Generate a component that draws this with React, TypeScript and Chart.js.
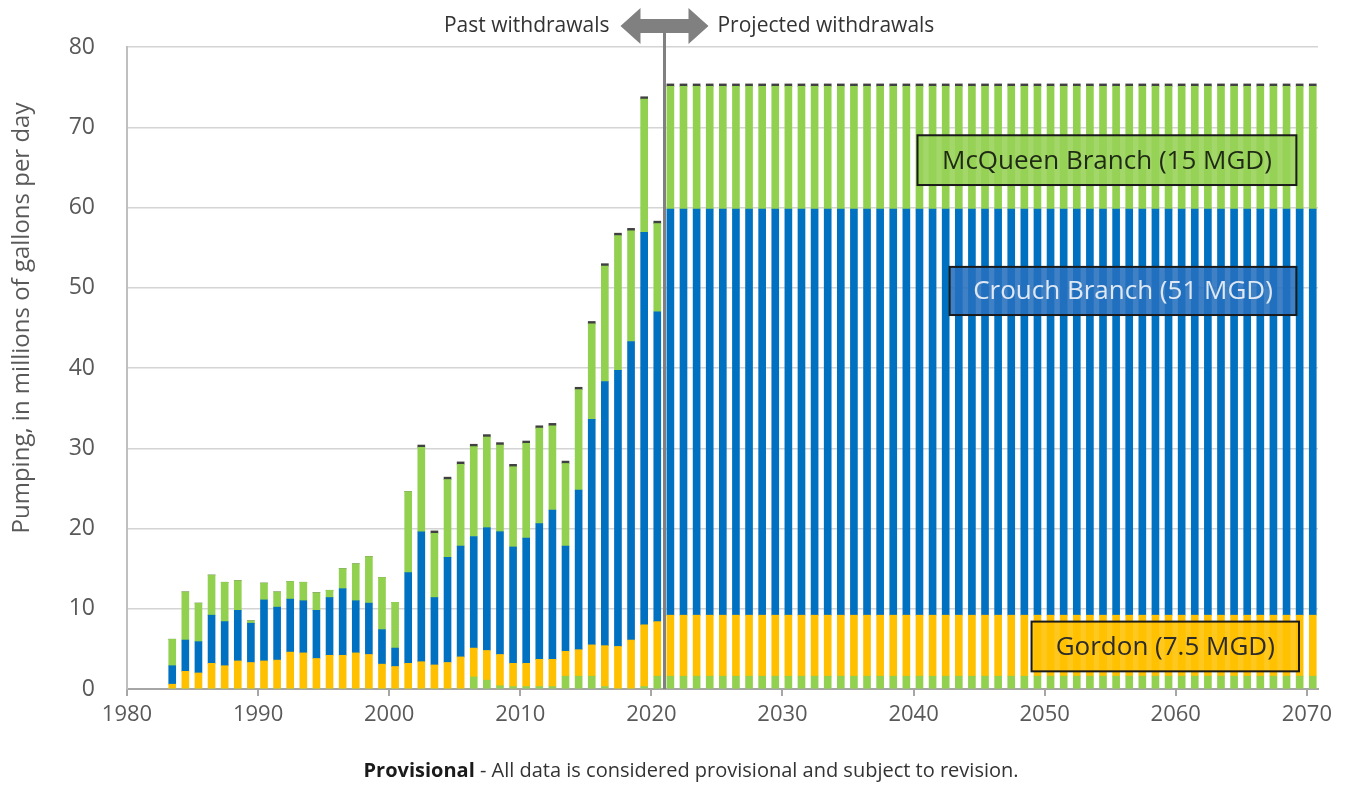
import React, { useEffect, useRef } from "react";
import { Chart, registerables } from "chart.js";

Chart.register(...registerables);

// ---- Data (millions of gallons per day) ----
const years = [
  1983, 1984, 1985, 1986, 1987, 1988, 1989, 1990, 1991, 1992,
  1993, 1994, 1995, 1996, 1997, 1998, 1999, 2000, 2001, 2002,
  2003, 2004, 2005, 2006, 2007, 2008, 2009, 2010, 2011, 2012,
  2013, 2014, 2015, 2016, 2017, 2018, 2019, 2020, 2021, 2022,
  2023, 2024, 2025, 2026, 2027, 2028, 2029, 2030, 2031, 2032,
  2033, 2034, 2035, 2036, 2037, 2038, 2039, 2040, 2041, 2042,
  2043, 2044, 2045, 2046, 2047, 2048, 2049, 2050, 2051, 2052,
  2053, 2054, 2055, 2056, 2057, 2058, 2059, 2060, 2061, 2062,
  2063, 2064, 2065, 2066, 2067, 2068, 2069, 2070,
];

const otherGreen = [
  0, 0, 0, 0, 0, 0, 0, 0, 0, 0,
  0, 0, 0, 0, 0, 0, 0, 0, 0, 0,
  0, 0, 0, 1.5, 1.1, 0.4, 0.3, 0.3, 0.3, 0.3,
  1.6, 1.6, 1.6, 0.3, 0, 0, 0.3, 1.6, 1.6, 1.6,
  1.6, 1.6, 1.6, 1.6, 1.6, 1.6, 1.6, 1.6, 1.6, 1.6,
  1.6, 1.6, 1.6, 1.6, 1.6, 1.6, 1.6, 1.6, 1.6, 1.6,
  1.6, 1.6, 1.6, 1.6, 1.6, 1.6, 1.6, 1.6, 1.6, 1.6,
  1.6, 1.6, 1.6, 1.6, 1.6, 1.6, 1.6, 1.6, 1.6, 1.6,
  1.6, 1.6, 1.6, 1.6, 1.6, 1.6, 1.6, 1.6,
];

const gordon = [
  0.6, 2.2, 2.0, 3.2, 2.9, 3.5, 3.3, 3.5, 3.6, 4.6,
  4.5, 3.8, 4.2, 4.2, 4.5, 4.3, 3.1, 2.8, 3.2, 3.4,
  3.0, 3.3, 4.0, 3.6, 3.7, 3.9, 2.9, 2.9, 3.4, 3.4,
  3.1, 3.3, 3.9, 5.1, 5.3, 6.1, 7.7, 6.8, 7.6, 7.6,
  7.6, 7.6, 7.6, 7.6, 7.6, 7.6, 7.6, 7.6, 7.6, 7.6,
  7.6, 7.6, 7.6, 7.6, 7.6, 7.6, 7.6, 7.6, 7.6, 7.6,
  7.6, 7.6, 7.6, 7.6, 7.6, 7.6, 7.6, 7.6, 7.6, 7.6,
  7.6, 7.6, 7.6, 7.6, 7.6, 7.6, 7.6, 7.6, 7.6, 7.6,
  7.6, 7.6, 7.6, 7.6, 7.6, 7.6, 7.6, 7.6,
];

const crouch = [
  2.3, 3.9, 3.9, 6.0, 5.5, 6.3, 4.9, 7.6, 6.6, 6.6,
  6.5, 6.0, 7.2, 8.3, 6.5, 6.4, 4.3, 2.3, 11.3, 16.2,
  8.4, 13.1, 13.8, 13.9, 15.3, 15.3, 14.5, 15.6, 16.9, 18.6,
  13.1, 19.9, 28.1, 32.9, 34.4, 37.2, 48.9, 38.6, 50.6, 50.6,
  50.6, 50.6, 50.6, 50.6, 50.6, 50.6, 50.6, 50.6, 50.6, 50.6,
  50.6, 50.6, 50.6, 50.6, 50.6, 50.6, 50.6, 50.6, 50.6, 50.6,
  50.6, 50.6, 50.6, 50.6, 50.6, 50.6, 50.6, 50.6, 50.6, 50.6,
  50.6, 50.6, 50.6, 50.6, 50.6, 50.6, 50.6, 50.6, 50.6, 50.6,
  50.6, 50.6, 50.6, 50.6, 50.6, 50.6, 50.6, 50.6,
];

const mcqueen = [
  3.3, 6.0, 4.8, 5.0, 4.9, 3.7, 0.3, 2.1, 1.9, 2.2,
  2.3, 2.2, 0.9, 2.5, 4.6, 5.8, 6.5, 5.7, 10.1, 10.5,
  8.0, 9.7, 10.2, 11.2, 11.3, 10.8, 10.0, 11.8, 11.9, 10.5,
  10.3, 12.5, 11.9, 14.4, 16.8, 13.8, 16.6, 11.0, 15.3, 15.3,
  15.3, 15.3, 15.3, 15.3, 15.3, 15.3, 15.3, 15.3, 15.3, 15.3,
  15.3, 15.3, 15.3, 15.3, 15.3, 15.3, 15.3, 15.3, 15.3, 15.3,
  15.3, 15.3, 15.3, 15.3, 15.3, 15.3, 15.3, 15.3, 15.3, 15.3,
  15.3, 15.3, 15.3, 15.3, 15.3, 15.3, 15.3, 15.3, 15.3, 15.3,
  15.3, 15.3, 15.3, 15.3, 15.3, 15.3, 15.3, 15.3,
];

const cap = [
  0, 0, 0, 0, 0, 0, 0, 0, 0, 0,
  0, 0, 0, 0, 0, 0, 0, 0, 0, 0.3,
  0.3, 0.3, 0.3, 0.3, 0.3, 0.3, 0.3, 0.3, 0.3, 0.3,
  0.3, 0.3, 0.3, 0.3, 0.3, 0.3, 0.3, 0.3, 0.3, 0.3,
  0.3, 0.3, 0.3, 0.3, 0.3, 0.3, 0.3, 0.3, 0.3, 0.3,
  0.3, 0.3, 0.3, 0.3, 0.3, 0.3, 0.3, 0.3, 0.3, 0.3,
  0.3, 0.3, 0.3, 0.3, 0.3, 0.3, 0.3, 0.3, 0.3, 0.3,
  0.3, 0.3, 0.3, 0.3, 0.3, 0.3, 0.3, 0.3, 0.3, 0.3,
  0.3, 0.3, 0.3, 0.3, 0.3, 0.3, 0.3, 0.3,
];

const xTickValues = [1980, 1990, 2000, 2010, 2020, 2030, 2040, 2050, 2060, 2070];

const boxLabels = [
  "McQueen Branch (15 MGD)",
  "Crouch Branch (51 MGD)",
  "Gordon (7.5 MGD)",
];

const yTitle = "Pumping, in millions of gallons per day";
const pastLabel = "Past withdrawals";
const projectedLabel = "Projected withdrawals";
const captionBold = "Provisional";
const captionRest = " - All data is considered provisional and subject to revision.";

// ---- Layout / style constants ----
const FONT = '"Open Sans", "DejaVu Sans", sans-serif';
const BAR_OFFSET = 0.45; // bars sit just past the year tick
const DIVIDER_X = 2021; // between last measured and first projected year
const GREEN = "#92D050";
const YELLOW = "#FFC000";
const BLUE = "#0070C0";
const CAP = "#404040";
const GREY_TEXT = "#595959";

const boxes = [
  { x0: 2040.3, x1: 2069.2, y0: 62.8, y1: 69.0, fill: "rgba(150,210,85,0.88)", text: "#1f2a15" },
  { x0: 2042.75, x1: 2069.2, y0: 46.6, y1: 52.6, fill: "rgba(38,112,190,0.88)", text: "#dfe8f3" },
  { x0: 2049.0, x1: 2069.4, y0: 2.2, y1: 8.4, fill: "rgba(255,192,0,0.88)", text: "#2b2b2b" },
];

const overlayPlugin = {
  id: "overlay",
  afterDatasetsDraw(chart: any) {
    const { ctx, chartArea, scales } = chart;
    const xs = scales.x;
    const ys = scales.y;
    boxes.forEach((b, i) => {
      const left = xs.getPixelForValue(b.x0);
      const right = xs.getPixelForValue(b.x1);
      const top = ys.getPixelForValue(b.y1);
      const bottom = ys.getPixelForValue(b.y0);
      ctx.save();
      ctx.fillStyle = b.fill;
      ctx.fillRect(left, top, right - left, bottom - top);
      ctx.lineWidth = 2;
      ctx.strokeStyle = "#1a1a1a";
      ctx.strokeRect(left, top, right - left, bottom - top);
      ctx.font = `26px ${FONT}`;
      ctx.fillStyle = b.text;
      ctx.textAlign = "center";
      ctx.textBaseline = "middle";
      ctx.fillText(boxLabels[i], (left + right) / 2, (top + bottom) / 2 + 1);
      ctx.restore();
    });
    // divider line
    const dx = xs.getPixelForValue(DIVIDER_X);
    ctx.save();
    ctx.strokeStyle = "#808080";
    ctx.lineWidth = 3;
    ctx.beginPath();
    ctx.moveTo(dx, 26);
    ctx.lineTo(dx, chartArea.bottom);
    ctx.stroke();
    ctx.restore();
  },
  afterDraw(chart: any) {
    const { ctx, scales } = chart;
    const xs = scales.x;
    const dx = xs.getPixelForValue(DIVIDER_X);
    const ay = 26;
    ctx.save();
    // double arrow
    const half = 44, head = 20, hh = 18, sh = 7;
    ctx.fillStyle = "#808080";
    ctx.beginPath();
    ctx.moveTo(dx - half, ay);
    ctx.lineTo(dx - half + head, ay - hh);
    ctx.lineTo(dx - half + head, ay - sh);
    ctx.lineTo(dx + half - head, ay - sh);
    ctx.lineTo(dx + half - head, ay - hh);
    ctx.lineTo(dx + half, ay);
    ctx.lineTo(dx + half - head, ay + hh);
    ctx.lineTo(dx + half - head, ay + sh);
    ctx.lineTo(dx - half + head, ay + sh);
    ctx.lineTo(dx - half + head, ay + hh);
    ctx.closePath();
    ctx.fill();
    // top labels
    ctx.font = `21px ${FONT}`;
    ctx.fillStyle = "#333333";
    ctx.textBaseline = "middle";
    ctx.textAlign = "right";
    ctx.fillText(pastLabel, dx - 55, ay);
    ctx.textAlign = "left";
    ctx.fillText(projectedLabel, dx + 53, ay);
    // y title
    ctx.save();
    ctx.translate(22, 318);
    ctx.rotate(-Math.PI / 2);
    ctx.font = `24px ${FONT}`;
    ctx.fillStyle = GREY_TEXT;
    ctx.textAlign = "center";
    ctx.textBaseline = "middle";
    ctx.fillText(yTitle, 0, 0);
    ctx.restore();
    // caption
    ctx.textBaseline = "middle";
    ctx.textAlign = "left";
    ctx.font = `bold 20px ${FONT}`;
    const wb = ctx.measureText(captionBold).width;
    ctx.font = `20px ${FONT}`;
    const wr = ctx.measureText(captionRest).width;
    const cx = 691 - (wb + wr) / 2;
    ctx.fillStyle = "#1a1a1a";
    ctx.font = `bold 20px ${FONT}`;
    ctx.fillText(captionBold, cx, 771);
    ctx.font = `20px ${FONT}`;
    ctx.fillStyle = "#333333";
    ctx.fillText(captionRest, cx + wb, 771);
    ctx.restore();
  },
};

function toPoints(series: number[]) {
  return years.map((yr, i) => ({ x: yr + BAR_OFFSET, y: series[i] }));
}

export default function App() {
  const ref = useRef<HTMLCanvasElement | null>(null);

  useEffect(() => {
    if (!ref.current) return;
    const chart = new Chart(ref.current, {
      type: "bar",
      data: {
        datasets: [
          { label: "McQueen Branch (other)", data: toPoints(otherGreen), backgroundColor: GREEN },
          { label: "Gordon", data: toPoints(gordon), backgroundColor: YELLOW },
          { label: "Crouch Branch", data: toPoints(crouch), backgroundColor: BLUE },
          { label: "McQueen Branch", data: toPoints(mcqueen), backgroundColor: GREEN },
          { label: "Other", data: toPoints(cap), backgroundColor: CAP },
        ] as any,
      },
      options: {
        responsive: false,
        animation: false,
        events: [],
        datasets: { bar: { barThickness: 7, borderWidth: 0 } } as any,
        layout: { padding: { top: 47, right: 41, left: 0, bottom: 0 } },
        plugins: { legend: { display: false }, tooltip: { enabled: false } },
        scales: {
          x: {
            type: "linear",
            stacked: true,
            offset: false,
            min: 1980,
            max: 2070.85,
            afterBuildTicks: (s: any) => {
              s.ticks = xTickValues.map((v) => ({ value: v }));
            },
            afterFit: (s: any) => {
              s.height = 96;
            },
            ticks: {
              callback: (v: any) => String(v),
              font: { family: FONT, size: 22 },
              color: GREY_TEXT,
              padding: 6,
              maxRotation: 0,
              autoSkip: false,
            },
            grid: { display: true, offset: false, drawOnChartArea: false, drawTicks: true, tickLength: 7, color: "#a6a6a6", lineWidth: 2 },
            border: { display: true, color: "#a6a6a6", width: 2 },
          },
          y: {
            stacked: true,
            min: 0,
            max: 80,
            ticks: {
              stepSize: 10,
              font: { family: FONT, size: 23 },
              color: GREY_TEXT,
              padding: 32,
            },
            afterFit: (s: any) => {
              s.width = 127;
            },
            grid: { color: "#d4d4d4", lineWidth: 1.5, drawTicks: false },
            border: { display: true, color: "#bfbfbf", width: 2 },
          },
        },
      } as any,
      plugins: [overlayPlugin],
    });
    return () => chart.destroy();
  }, []);

  return (
    <div style={{ position: "fixed", left: 0, top: 0, width: 1359, height: 785, background: "#fff" }}>
      <canvas ref={ref} width={1359} height={785} style={{ display: "block" }} />
    </div>
  );
}
